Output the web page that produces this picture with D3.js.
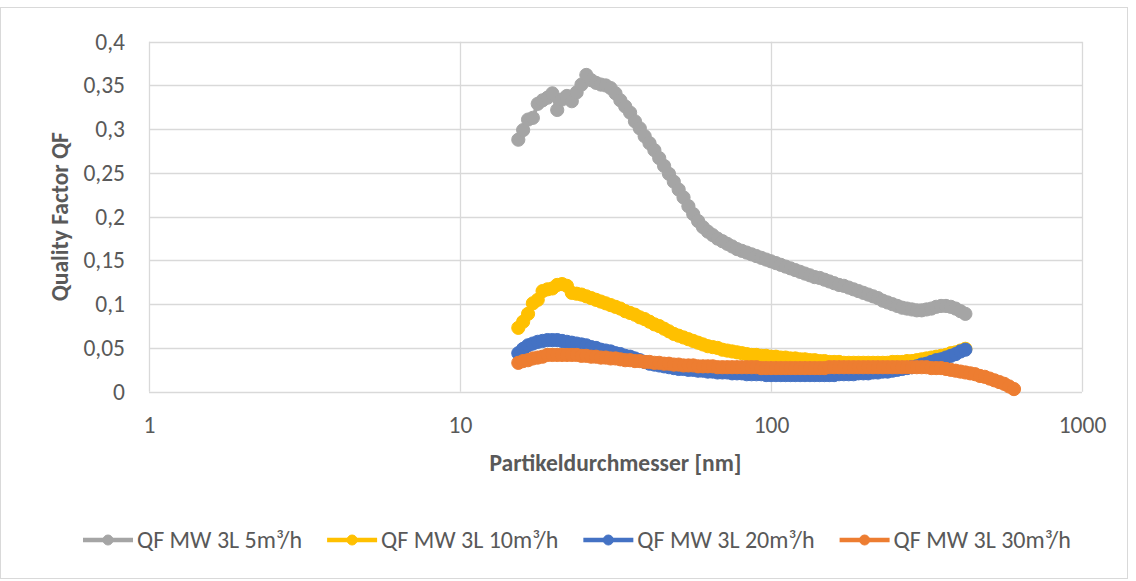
<!DOCTYPE html>
<html>
<head>
<meta charset="utf-8">
<script src="https://cdn.jsdelivr.net/npm/d3@7"></script>
<style>
  html, body { margin: 0; padding: 0; background: #fff; }
  svg { display: block; font-family: Carlito, Calibri, Lato, "Open Sans", sans-serif; }
</style>
</head>
<body>
<svg id="chart" width="1136" height="581"></svg>
<script>
// Particle diameter channels [nm] (64 channels per decade)
const diameters = [
  15.40,15.96,16.55,17.15,17.78,18.43,19.11,19.81,20.54,21.29,
  22.07,22.88,23.71,24.58,25.48,26.42,27.38,28.39,29.43,30.51,
  31.62,32.78,33.98,35.23,36.52,37.86,39.24,40.68,42.17,43.71,
  45.32,46.98,48.70,50.48,52.33,54.25,56.23,58.29,60.43,62.64,
  64.94,67.32,69.78,72.34,74.99,77.74,80.58,83.54,86.60,89.77,
  93.06,96.47,100.0,103.7,107.5,111.4,115.5,119.7,124.1,128.6,
  133.4,138.2,143.3,148.6,154.0,159.6,165.5,171.5,177.8,184.3,
  191.1,198.1,205.4,212.9,220.7,228.8,237.1,245.8,254.8,264.2,
  273.8,283.9,294.3,305.1,316.2,327.8,339.8,352.3,365.2,378.6,
  392.4,406.8,421.7,437.1,453.2,469.8,487.0,504.8,523.3,542.5,
  562.3,582.9,604.3
];

// Quality factor QF per channel
const qf5 = [
  0.288,0.299,0.311,0.313,0.329,0.333,0.336,0.341,0.322,0.334,
  0.338,0.332,0.342,0.351,0.362,0.356,0.353,0.351,0.350,0.347,
  0.341,0.333,0.326,0.319,0.309,0.301,0.292,0.284,0.276,0.267,
  0.258,0.249,0.240,0.231,0.222,0.212,0.203,0.195,0.188,0.183,
  0.179,0.175,0.172,0.169,0.166,0.163,0.161,0.159,0.157,0.155,
  0.153,0.151,0.149,0.147,0.145,0.143,0.141,0.139,0.137,0.135,
  0.133,0.131,0.130,0.128,0.126,0.124,0.122,0.121,0.119,0.117,
  0.115,0.113,0.111,0.109,0.107,0.104,0.102,0.100,0.098,0.096,
  0.095,0.094,0.093,0.093,0.094,0.095,0.097,0.098,0.098,0.097,
  0.095,0.092,0.089
];
const qf10 = [
  0.073,0.080,0.089,0.101,0.105,0.115,0.117,0.118,0.122,0.123,
  0.121,0.113,0.112,0.111,0.109,0.107,0.105,0.103,0.101,0.099,
  0.097,0.095,0.092,0.090,0.088,0.085,0.083,0.080,0.077,0.075,
  0.072,0.069,0.066,0.064,0.062,0.060,0.058,0.056,0.054,0.052,
  0.051,0.050,0.048,0.047,0.046,0.045,0.044,0.043,0.042,0.042,
  0.041,0.041,0.040,0.040,0.039,0.039,0.038,0.038,0.037,0.037,
  0.036,0.036,0.035,0.035,0.034,0.034,0.034,0.033,0.033,0.033,
  0.033,0.033,0.033,0.033,0.033,0.033,0.033,0.034,0.034,0.034,
  0.035,0.035,0.036,0.037,0.038,0.039,0.040,0.041,0.042,0.044,
  0.045,0.047,0.049
];
const qf20 = [
  0.044,0.049,0.053,0.055,0.057,0.058,0.059,0.059,0.059,0.058,
  0.057,0.056,0.055,0.054,0.053,0.051,0.050,0.048,0.047,0.046,
  0.044,0.043,0.041,0.040,0.038,0.036,0.034,0.032,0.031,0.030,
  0.029,0.028,0.027,0.026,0.026,0.025,0.025,0.024,0.024,0.023,
  0.023,0.022,0.022,0.022,0.021,0.021,0.021,0.020,0.020,0.020,
  0.020,0.019,0.019,0.019,0.019,0.019,0.019,0.019,0.019,0.019,
  0.019,0.019,0.019,0.019,0.019,0.019,0.020,0.020,0.020,0.020,
  0.021,0.021,0.021,0.022,0.022,0.023,0.023,0.024,0.025,0.026,
  0.027,0.028,0.029,0.031,0.032,0.034,0.036,0.037,0.039,0.041,
  0.043,0.046,0.048
];
const qf30 = [
  0.033,0.035,0.036,0.038,0.039,0.040,0.042,0.042,0.042,0.042,
  0.042,0.042,0.042,0.041,0.041,0.040,0.040,0.039,0.039,0.038,
  0.038,0.037,0.036,0.036,0.035,0.035,0.034,0.034,0.033,0.033,
  0.032,0.032,0.031,0.031,0.030,0.030,0.030,0.029,0.029,0.029,
  0.029,0.028,0.028,0.028,0.028,0.028,0.028,0.028,0.028,0.028,
  0.027,0.027,0.027,0.027,0.027,0.027,0.027,0.027,0.027,0.027,
  0.027,0.027,0.027,0.027,0.028,0.028,0.028,0.028,0.028,0.028,
  0.028,0.028,0.028,0.028,0.028,0.028,0.028,0.028,0.028,0.028,
  0.028,0.028,0.028,0.028,0.028,0.027,0.027,0.027,0.026,0.025,
  0.024,0.023,0.022,0.021,0.020,0.018,0.017,0.015,0.013,0.011,
  0.009,0.006,0.003
];

const seriesNames = ["QF MW 3L 5m³/h", "QF MW 3L 10m³/h", "QF MW 3L 20m³/h", "QF MW 3L 30m³/h"];
const seriesValues = [qf5, qf10, qf20, qf30];
const seriesColors = ["#A5A5A5", "#FFC000", "#4472C4", "#ED7D31"];

const xTicks = [1, 10, 100, 1000];
const xTickLabels = ["1", "10", "100", "1000"];
const yTicks = [0, 0.05, 0.1, 0.15, 0.2, 0.25, 0.3, 0.35, 0.4];
const yTickLabels = ["0", "0,05", "0,1", "0,15", "0,2", "0,25", "0,3", "0,35", "0,4"];

const xTitle = "Partikeldurchmesser [nm]";
const yTitle = "Quality Factor QF";

const svg = d3.select("#chart");
const W = 1136, H = 581;
const plot = { left: 149, right: 1082, top: 41.7, bottom: 391.7 };
const textColor = "#595959";
const gridColor = "#D9D9D9";
const fontSize = 23.5;

svg.append("rect").attr("width", W).attr("height", H).attr("fill", "#fff");
// chart frame
svg.append("rect")
  .attr("x", 0.5).attr("y", 7.5).attr("width", 1127).attr("height", 571)
  .attr("fill", "none").attr("stroke", gridColor).attr("stroke-width", 1);

const x = d3.scaleLog().domain([1, 1000]).range([plot.left, plot.right]);
const y = d3.scaleLinear().domain([0, 0.4]).range([plot.bottom, plot.top]);

// gridlines
const grid = svg.append("g");
grid.selectAll("line.h").data(yTicks).join("line")
  .attr("x1", plot.left).attr("x2", plot.right)
  .attr("y1", d => Math.round(y(d)) + 0.5).attr("y2", d => Math.round(y(d)) + 0.5)
  .attr("stroke", gridColor).attr("stroke-width", 1.3);
grid.selectAll("line.v").data(xTicks).join("line")
  .attr("y1", plot.top).attr("y2", plot.bottom)
  .attr("x1", d => Math.round(x(d)) + 0.5).attr("x2", d => Math.round(x(d)) + 0.5)
  .attr("stroke", gridColor).attr("stroke-width", 1.3);

// axes (labels only)
const yAxis = svg.append("g")
  .attr("transform", `translate(${plot.left - 24},0)`)
  .call(d3.axisLeft(y).tickValues(yTicks).tickSize(0)
    .tickFormat((d, i) => yTickLabels[i]));
yAxis.attr("font-family", null).attr("font-size", null);
yAxis.select(".domain").remove();
yAxis.selectAll("text").attr("fill", textColor).attr("font-size", fontSize).attr("x", 0);

const xAxis = svg.append("g")
  .attr("transform", `translate(0,${plot.bottom + 22})`)
  .call(d3.axisBottom(x).tickValues(xTicks).tickSize(0)
    .tickFormat((d, i) => xTickLabels[i]));
xAxis.attr("font-family", null).attr("font-size", null);
xAxis.select(".domain").remove();
xAxis.selectAll("text").attr("fill", textColor).attr("font-size", fontSize);

// axis titles
svg.append("text")
  .attr("x", (plot.left + plot.right) / 2).attr("y", 463).attr("dy", "0.35em")
  .attr("text-anchor", "middle").attr("font-weight", "bold")
  .attr("font-size", fontSize).attr("fill", textColor).text(xTitle);
svg.append("text")
  .attr("transform", `translate(60,${(plot.top + plot.bottom) / 2}) rotate(-90)`)
  .attr("dy", "0.35em")
  .attr("text-anchor", "middle").attr("font-weight", "bold")
  .attr("font-size", fontSize).attr("fill", textColor).text(yTitle);

// series: connecting line plus dense circular markers
const line = d3.line().x(d => x(d.d)).y(d => y(d.v));
const marks = svg.append("g");
seriesValues.forEach((vals, s) => {
  const pts = vals.map((v, i) => ({ d: diameters[i], v }));
  const g = marks.append("g");
  g.append("path").datum(pts).attr("d", line)
    .attr("fill", "none").attr("stroke", seriesColors[s])
    .attr("stroke-width", 4).attr("stroke-linejoin", "round");
  g.selectAll("circle").data(pts).join("circle")
    .attr("cx", d => x(d.d)).attr("cy", d => y(d.v)).attr("r", 6.6)
    .attr("fill", seriesColors[s]).attr("stroke", seriesColors[s]).attr("stroke-width", 1);
});

// legend
const legend = svg.append("g").attr("transform", "translate(0,540)");
let lx = 83;
seriesNames.forEach((name, s) => {
  const item = legend.append("g").attr("transform", `translate(${lx},0)`);
  item.append("line").attr("x1", 0).attr("x2", 50).attr("y1", 0).attr("y2", 0)
    .attr("stroke", seriesColors[s]).attr("stroke-width", 4.5);
  item.append("circle").attr("cx", 25).attr("cy", 0).attr("r", 5)
    .attr("fill", seriesColors[s]).attr("stroke", seriesColors[s]);
  const t = item.append("text").attr("x", 54).attr("y", 0).attr("dy", "0.35em")
    .attr("font-size", 24).attr("fill", textColor).text(name);
  lx += 54 + t.node().getComputedTextLength() + 25;
});
</script>
</body>
</html>
